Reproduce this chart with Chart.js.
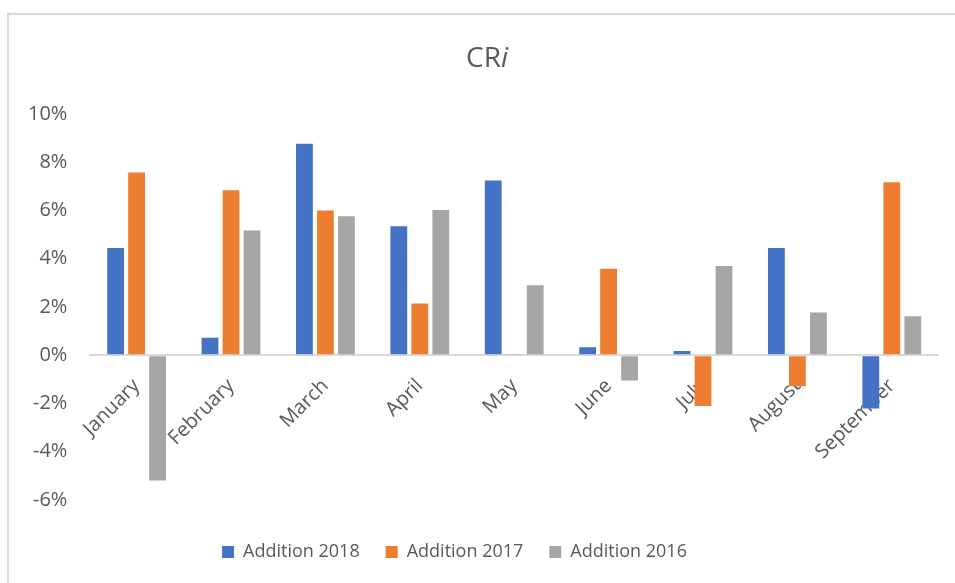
<!DOCTYPE html>
<html><head><meta charset="utf-8">
<script src="https://cdn.jsdelivr.net/npm/chart.js@4/dist/chart.umd.min.js"></script>
<style>html,body{margin:0;padding:0;background:#fff}#wrap{width:955px;height:583px;position:relative}</style>
</head><body><div id="wrap"><canvas id="c" width="955" height="583"></canvas></div>
<script>
const categories = ["January","February","March","April","May","June","July","August","September"];
const seriesNames = ["Addition 2018","Addition 2017","Addition 2016"];
const addition2018 = [4.45, 0.73, 8.77, 5.35, 7.24, 0.33, 0.18, 4.45, -2.21];
const addition2017 = [7.57, 6.84, 6.00, 2.14, 0.05, 3.59, -2.10, -1.28, 7.17];
const addition2016 = [-5.19, 5.17, 5.76, 6.02, 2.90, -1.05, 3.70, 1.77, 1.62];
const yTickValues = [-6, -4, -2, 0, 2, 4, 6, 8, 10];
const titleMain = "CR";
const titleItalic = "i";

const FONT = "'Open Sans', 'DejaVu Sans', sans-serif";
const TEXT = "#595959";

const frame = {
  id: 'frame',
  beforeDraw(chart) {
    const ctx = chart.ctx;
    ctx.save();
    ctx.fillStyle = '#fff';
    ctx.fillRect(0, 0, chart.width, chart.height);
    ctx.strokeStyle = '#d9d9d9';
    ctx.lineWidth = 2;
    ctx.strokeRect(8, 14, 2000, 2000);
    ctx.restore();
  }
};

const legendShift = {
  id: 'legendShift',
  beforeDraw(chart) {
    const lg = chart.legend;
    if (!lg || lg._shifted) return;
    lg.left -= 18; lg.right -= 18;
    lg.top += 17; lg.bottom += 17;
    lg._shifted = true;
  },
  afterLayout(chart) { if (chart.legend) chart.legend._shifted = false; }
};

const mixedTitle = {
  id: 'mixedTitle',
  afterDraw(chart) {
    const ctx = chart.ctx;
    ctx.save();
    ctx.fillStyle = TEXT;
    ctx.textBaseline = 'alphabetic';
    const f1 = "28px " + FONT, f2 = "italic 28px " + FONT;
    ctx.font = f1; const w1 = ctx.measureText(titleMain).width;
    ctx.font = f2; const w2 = ctx.measureText(titleItalic).width;
    const cx = 487, by = 67;
    const x0 = cx - (w1 + w2) / 2;
    ctx.font = f1; ctx.textAlign = 'left'; ctx.fillText(titleMain, x0, by);
    ctx.font = f2; ctx.fillText(titleItalic, x0 + w1, by);
    ctx.restore();
  }
};

new Chart(document.getElementById('c'), {
  type: 'bar',
  data: {
    labels: categories,
    datasets: [
      { label: seriesNames[0], data: addition2018, backgroundColor: '#4472C4' },
      { label: seriesNames[1], data: addition2017, backgroundColor: '#ED7D31' },
      { label: seriesNames[2], data: addition2016, backgroundColor: '#A5A5A5' }
    ]
  },
  options: {
    responsive: false,
    animation: false,
    devicePixelRatio: 1,
    categoryPercentage: 0.667,
    barPercentage: 0.8,
    layout: { padding: { top: 114, left: 6, right: 16, bottom: 29 } },
    plugins: {
      title: { display: false },
      tooltip: { enabled: false },
      legend: {
        position: 'bottom',
        labels: {
          boxWidth: 12, boxHeight: 12, padding: 26,
          color: TEXT, font: { family: FONT, size: 18 }
        }
      }
    },
    scales: {
      y: {
        min: -6, max: 10,
        afterBuildTicks(scale) { scale.ticks = yTickValues.map(v => ({ value: v })); },
        ticks: {
          padding: 22, color: TEXT, font: { family: FONT, size: 20 },
          callback: v => v + '%'
        },
        grid: {
          drawTicks: false,
          color: ctx => (ctx.tick && ctx.tick.value === 0) ? '#d9d9d9' : 'rgba(0,0,0,0)',
          lineWidth: 2
        },
        border: { display: false }
      },
      x: {
        position: { y: 0 },
        grid: { display: false, drawTicks: false },
        border: { display: false },
        ticks: {
          minRotation: 45, maxRotation: 45, padding: 19, labelOffset: 0, autoSkip: false,
          color: TEXT, font: { family: FONT, size: 20 }
        }
      }
    }
  },
  plugins: [frame, legendShift, mixedTitle]
});
</script>
</body></html>
